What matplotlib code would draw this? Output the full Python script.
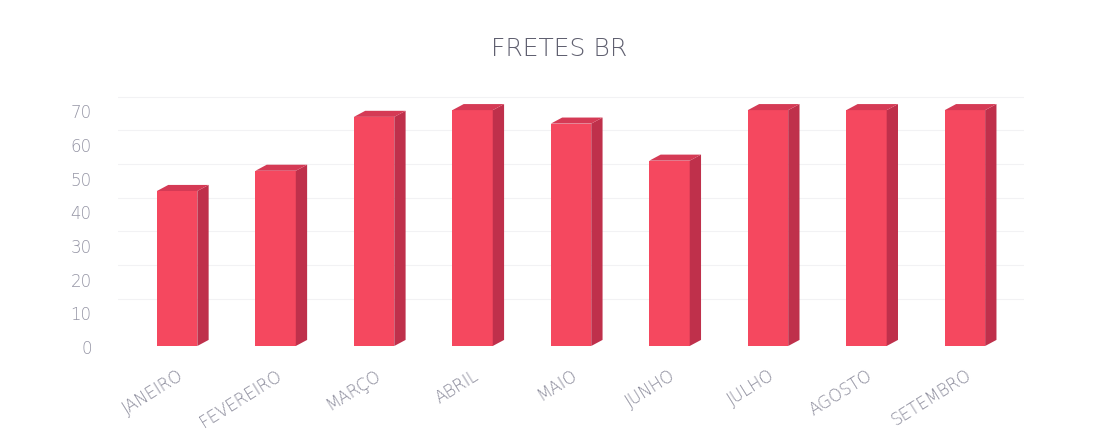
import matplotlib
matplotlib.use("Agg")
import matplotlib.pyplot as plt
from matplotlib.patches import Polygon

categories = ["JANEIRO", "FEVEREIRO", "MARÇO", "ABRIL", "MAIO", "JUNHO", "JULHO", "AGOSTO", "SETEMBRO"]
values = [46, 52, 68, 70, 66, 55, 70, 70, 70]
yticks = [0, 10, 20, 30, 40, 50, 60, 70]
title = "FRETES BR"

plt.rcParams['font.family'] = ['DejaVu Sans']

fig = plt.figure(figsize=(10.95, 4.39), dpi=100)
ax = fig.add_axes([0.1078, 0.2096, 0.8274, 0.614])

front = "#f5485f"
side = "#bf304b"
topc = "#d53a55"
w = 0.41
dx = 0.115
dy = 1.8

x = list(range(len(categories)))
ax.bar(x, values, width=w, color=front, zorder=3)
for xi, v in zip(x, values):
    r = xi + w / 2
    l = xi - w / 2
    ax.add_patch(Polygon([(r, 0), (r + dx, dy), (r + dx, v + dy), (r, v)],
                         closed=True, facecolor=side, edgecolor='none', zorder=3))
    ax.add_patch(Polygon([(l, v), (l + dx, v + dy), (r + dx, v + dy), (r, v)],
                         closed=True, facecolor=topc, edgecolor='none', zorder=3))

ax.set_xlim(-0.6, 8.6)
ax.set_ylim(0, 80)
ax.set_yticks(yticks)
ax.set_yticklabels([str(t) for t in yticks], fontweight='light')
ax.set_xticks(x)
ax.set_xticklabels(categories, rotation=32, ha='right', va='top',
                   rotation_mode='anchor', fontweight='light')
for s in ax.spines.values():
    s.set_visible(False)
ax.tick_params(axis='y', length=0, pad=19, labelsize=12, labelcolor='#9494a4')
ax.tick_params(axis='x', length=0, pad=14, labelsize=12, labelcolor='#8a8a9a')
for t in yticks[1:]:
    ax.axhline(t + 4, color='#f2f2f4', lw=0.8, zorder=1)

fig.text(0.511, 0.888, title, ha='center', va='center', fontsize=18,
         color='#606070', fontweight='light')

fig.savefig("out.png", dpi=100)
